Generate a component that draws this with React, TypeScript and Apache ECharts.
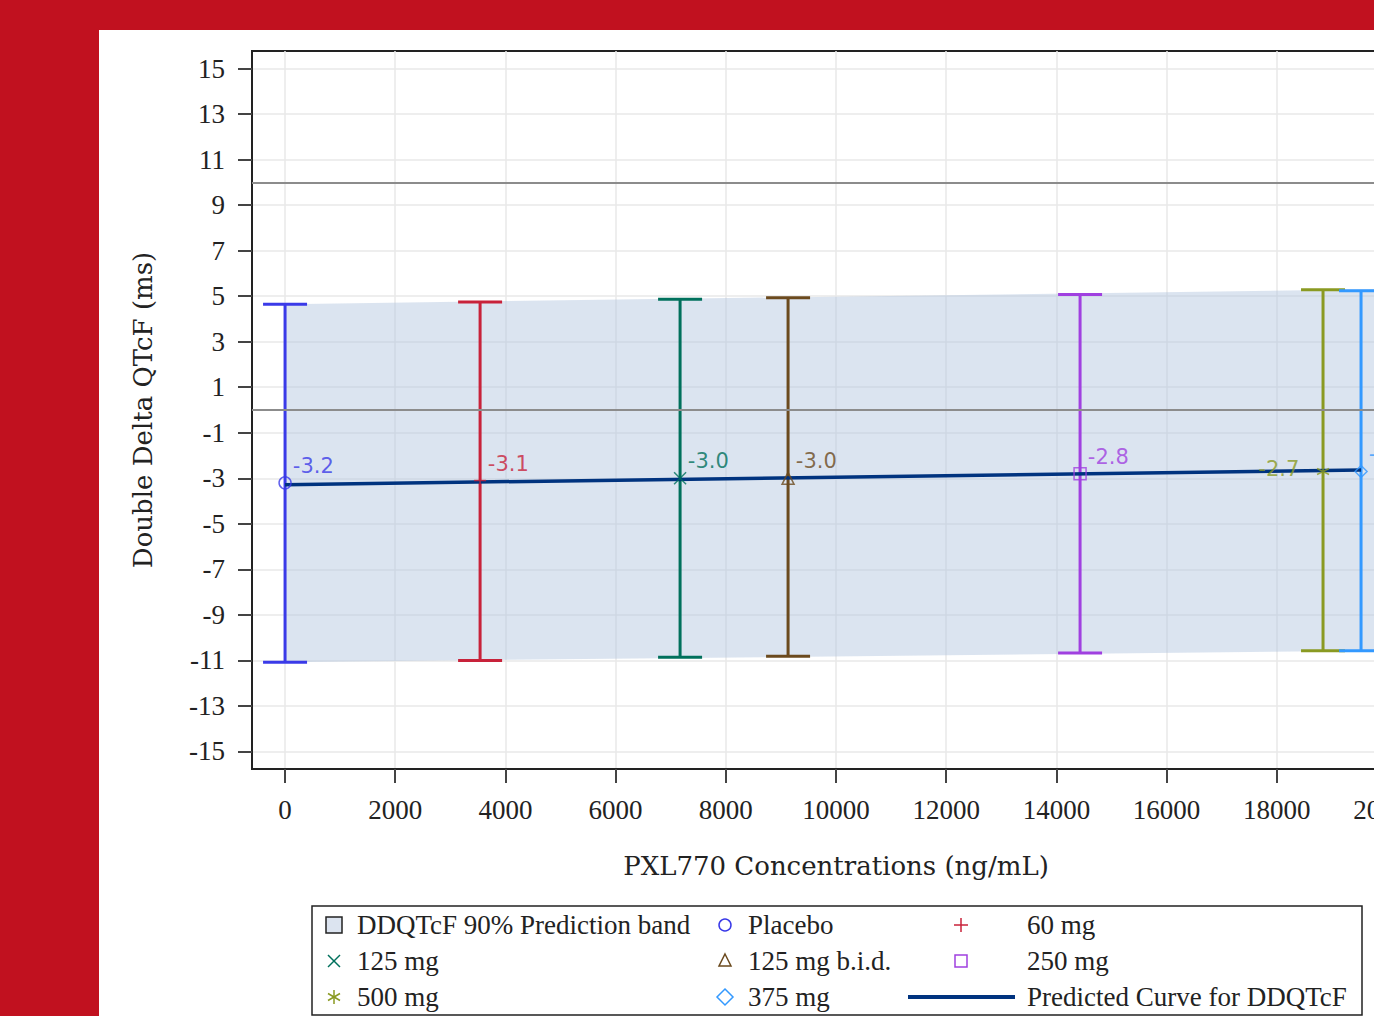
import React, { useEffect, useRef } from "react";
import * as echarts from "echarts";

// ---- data ----
const groups = ["Placebo", "60 mg", "125 mg", "125 mg b.i.d.", "250 mg", "500 mg", "375 mg"];
const concX = [0, 3540, 7170, 9130, 14430, 18840, 19530];
const meanY = [-3.2, -3.1, -3.0, -3.0, -2.8, -2.7, -2.7];
const lowerY = [-11.08, -11.0, -10.86, -10.82, -10.67, -10.58, -10.58];
const upperY = [4.65, 4.74, 4.86, 4.93, 5.07, 5.28, 5.24];
const groupColors = ["#3A3AE8", "#C8223A", "#00705C", "#6B4A1E", "#A040E0", "#8A9A22", "#3399FF"];

const bandX = [0, 20600];
const bandLower = [-11.08, -10.55];
const bandUpper = [4.65, 5.33];

const curveX = [0, 19530];
const curveY = [-3.28, -2.64];

const refLinesY = [10, 0];
const xTicks = [0, 2000, 4000, 6000, 8000, 10000, 12000, 14000, 16000, 18000, 20000];
const yTicks = [-15, -13, -11, -9, -7, -5, -3, -1, 1, 3, 5, 7, 9, 11, 13, 15];

const PLUS = "path://M0,5L10,5M5,0L5,10";
const CROSS = "path://M0,0L10,10M10,0L0,10";
const STAR = "path://M5,0L5,10M0.7,2.5L9.3,7.5M0.7,7.5L9.3,2.5";
const groupSymbols = ["circle", PLUS, CROSS, "triangle", "rect", STAR, "diamond"];

const SERIF = "'Liberation Serif', 'Times New Roman', serif";
const TITLE = "'DejaVu Serif', serif";
const SANS = "'DejaVu Sans', sans-serif";

function legendGraphics() {
  const rows = [925, 961, 997];
  const c1 = 334, c2 = 725, c3 = 961;
  const t1 = 357, t2 = 748, t3 = 1027;
  const txt = (x: number, y: number, s: string) => ({
    type: "text", x, y,
    style: { text: s, fill: "#222", font: `27px ${SERIF}`, textAlign: "left", textVerticalAlign: "middle" },
  });
  const ln = (x1: number, y1: number, x2: number, y2: number, c: string, w = 1.5) => ({
    type: "line", shape: { x1, y1, x2, y2 }, style: { stroke: c, lineWidth: w },
  });
  const h = 7;
  return [
    { type: "rect", shape: { x: 312, y: 906, width: 1050, height: 109 }, style: { fill: "#fff", stroke: "#222", lineWidth: 1.5 } },
    // row 1
    { type: "rect", shape: { x: c1 - 8, y: rows[0] - 8, width: 16, height: 16 }, style: { fill: "#DCE4F0", stroke: "#222", lineWidth: 1.5 } },
    txt(t1, rows[0], "DDQTcF 90% Prediction band"),
    { type: "circle", shape: { cx: c2, cy: rows[0], r: 6 }, style: { fill: "none", stroke: groupColors[0], lineWidth: 1.5 } },
    txt(t2, rows[0], groups[0]),
    ln(c3 - h, rows[0], c3 + h, rows[0], groupColors[1]),
    ln(c3, rows[0] - h, c3, rows[0] + h, groupColors[1]),
    txt(t3, rows[0], groups[1]),
    // row 2
    ln(c1 - 6, rows[1] - 6, c1 + 6, rows[1] + 6, groupColors[2]),
    ln(c1 + 6, rows[1] - 6, c1 - 6, rows[1] + 6, groupColors[2]),
    txt(t1, rows[1], groups[2]),
    { type: "polygon", shape: { points: [[c2, rows[1] - 7], [c2 + 6, rows[1] + 5], [c2 - 6, rows[1] + 5]] }, style: { fill: "none", stroke: groupColors[3], lineWidth: 1.5 } },
    txt(t2, rows[1], groups[3]),
    { type: "rect", shape: { x: c3 - 6, y: rows[1] - 6, width: 12, height: 12 }, style: { fill: "none", stroke: groupColors[4], lineWidth: 1.5 } },
    txt(t3, rows[1], groups[4]),
    // row 3
    ln(c1, rows[2] - h, c1, rows[2] + h, groupColors[5]),
    ln(c1 - 6, rows[2] - 3.5, c1 + 6, rows[2] + 3.5, groupColors[5]),
    ln(c1 - 6, rows[2] + 3.5, c1 + 6, rows[2] - 3.5, groupColors[5]),
    txt(t1, rows[2], groups[5]),
    { type: "polygon", shape: { points: [[c2, rows[2] - 8], [c2 + 8, rows[2]], [c2, rows[2] + 8], [c2 - 8, rows[2]]] }, style: { fill: "none", stroke: groupColors[6], lineWidth: 1.5 } },
    txt(t2, rows[2], groups[6]),
    ln(908, rows[2], 1015, rows[2], "#00337F", 4),
    txt(t3, rows[2], "Predicted Curve for DDQTcF"),
  ];
}

export default function App() {
  const ref = useRef<HTMLDivElement>(null);
  useEffect(() => {
    if (!ref.current) return;
    const chart = echarts.init(ref.current, undefined, { renderer: "svg" });

    const scatterSeries = groups.map((g, i) => {
      const isLeft = i === 5;
      return {
        type: "scatter",
        name: g,
        z: 6,
        symbol: groupSymbols[i],
        symbolSize: 12,
        itemStyle: { color: "rgba(0,0,0,0)", borderColor: groupColors[i], borderWidth: 1.5 },
        label: {
          show: true,
          color: groupColors[i],
          fontFamily: SANS,
          fontSize: 21,
          position: isLeft ? "left" : "right",
          distance: isLeft ? 17 : 1,
          offset: isLeft ? [0, -2] : [0, -17],
          formatter: () => meanY[i].toFixed(1),
        },
        data: [[concX[i], meanY[i]]],
      };
    });

    const option: any = {
      animation: false,
      backgroundColor: "transparent",
      textStyle: { fontFamily: SERIF },
      grid: {
        left: 252, top: 51, width: 1168, height: 718,
        outerBoundsMode: "none",
        containLabel: false,
        show: true, borderColor: "#222", borderWidth: 2, backgroundColor: "#fff",
      },
      xAxis: {
        type: "value",
        min: -600, max: 20600,
        name: "PXL770 Concentrations (ng/mL)",
        nameLocation: "middle",
        nameGap: 84,
        nameTextStyle: { fontFamily: TITLE, fontSize: 26, color: "#222" },
        axisLine: { show: true, onZero: false, lineStyle: { color: "#222", width: 2 } },
        axisTick: { show: true, length: 14, customValues: xTicks, lineStyle: { color: "#444", width: 2 } },
        axisLabel: {
          customValues: xTicks, margin: 27, fontFamily: SERIF, fontSize: 27, color: "#222",
          formatter: (v: number) => String(v),
        },
        splitLine: { show: true, lineStyle: { color: "#E8E8E8", width: 1.5 } },
      },
      yAxis: {
        type: "value",
        min: -15.77, max: 15.77,
        name: "Double Delta QTcF (ms)",
        nameLocation: "middle",
        nameGap: 96,
        nameTextStyle: { fontFamily: TITLE, fontSize: 26, color: "#222" },
        axisLine: { show: true, onZero: false, lineStyle: { color: "#222", width: 2 } },
        axisTick: { show: true, length: 14, customValues: yTicks, lineStyle: { color: "#444", width: 2 } },
        axisLabel: {
          customValues: yTicks, margin: 27, fontFamily: SERIF, fontSize: 27, color: "#222",
          formatter: (v: number) => String(v),
        },
        splitLine: { show: true, lineStyle: { color: "#E8E8E8", width: 1.5 } },
      },
      series: [
        {
          type: "custom",
          name: "DDQTcF 90% Prediction band",
          z: 1,
          clip: true,
          data: bandX.map((x, i) => [x, bandLower[i], bandUpper[i]]),
          renderItem: (params: any, api: any) => {
            if (params.dataIndex !== 0) return null;
            const top = bandX.map((x, i) => api.coord([x, bandUpper[i]]));
            const bot = bandX.map((x, i) => api.coord([x, bandLower[i]])).reverse();
            return {
              type: "polygon",
              shape: { points: top.concat(bot) },
              style: { fill: "rgba(176,196,222,0.45)", stroke: "none" },
            };
          },
        },
        {
          type: "line",
          name: "refs",
          z: 2,
          data: [],
          markLine: {
            silent: true,
            symbol: "none",
            label: { show: false },
            lineStyle: { color: "#8C8C8C", width: 2, type: "solid" },
            data: refLinesY.map((v) => ({ yAxis: v })),
          },
        },
        {
          type: "custom",
          name: "errorbars",
          z: 3,
          clip: false,
          data: concX.map((x, i) => [x, lowerY[i], upperY[i]]),
          renderItem: (params: any, api: any) => {
            const x = api.value(0);
            const lo = api.coord([x, api.value(1)]);
            const hi = api.coord([x, api.value(2)]);
            const c = groupColors[params.dataIndex];
            const hw = 22;
            const st = { stroke: c, lineWidth: 3 };
            return {
              type: "group",
              children: [
                { type: "line", shape: { x1: lo[0], y1: lo[1], x2: hi[0], y2: hi[1] }, style: st },
                { type: "line", shape: { x1: lo[0] - hw, y1: lo[1], x2: lo[0] + hw, y2: lo[1] }, style: st },
                { type: "line", shape: { x1: hi[0] - hw, y1: hi[1], x2: hi[0] + hw, y2: hi[1] }, style: st },
              ],
            };
          },
        },
        {
          type: "line",
          name: "Predicted Curve for DDQTcF",
          z: 4,
          symbol: "none",
          lineStyle: { color: "#00337F", width: 3.5 },
          data: curveX.map((x, i) => [x, curveY[i]]),
        },
        ...scatterSeries,
      ],
      graphic: legendGraphics(),
    };
    chart.setOption(option);
    return () => chart.dispose();
  }, []);

  return (
    <div style={{ position: "fixed", left: 0, top: 0, width: 1374, height: 1016, overflow: "hidden", background: "#C1111F" }}>
      <div style={{ position: "absolute", left: 99, top: 30, width: 1275, height: 986, background: "#fff" }} />
      <div ref={ref} style={{ position: "absolute", left: 0, top: 0, width: 1374, height: 1016 }} />
    </div>
  );
}
